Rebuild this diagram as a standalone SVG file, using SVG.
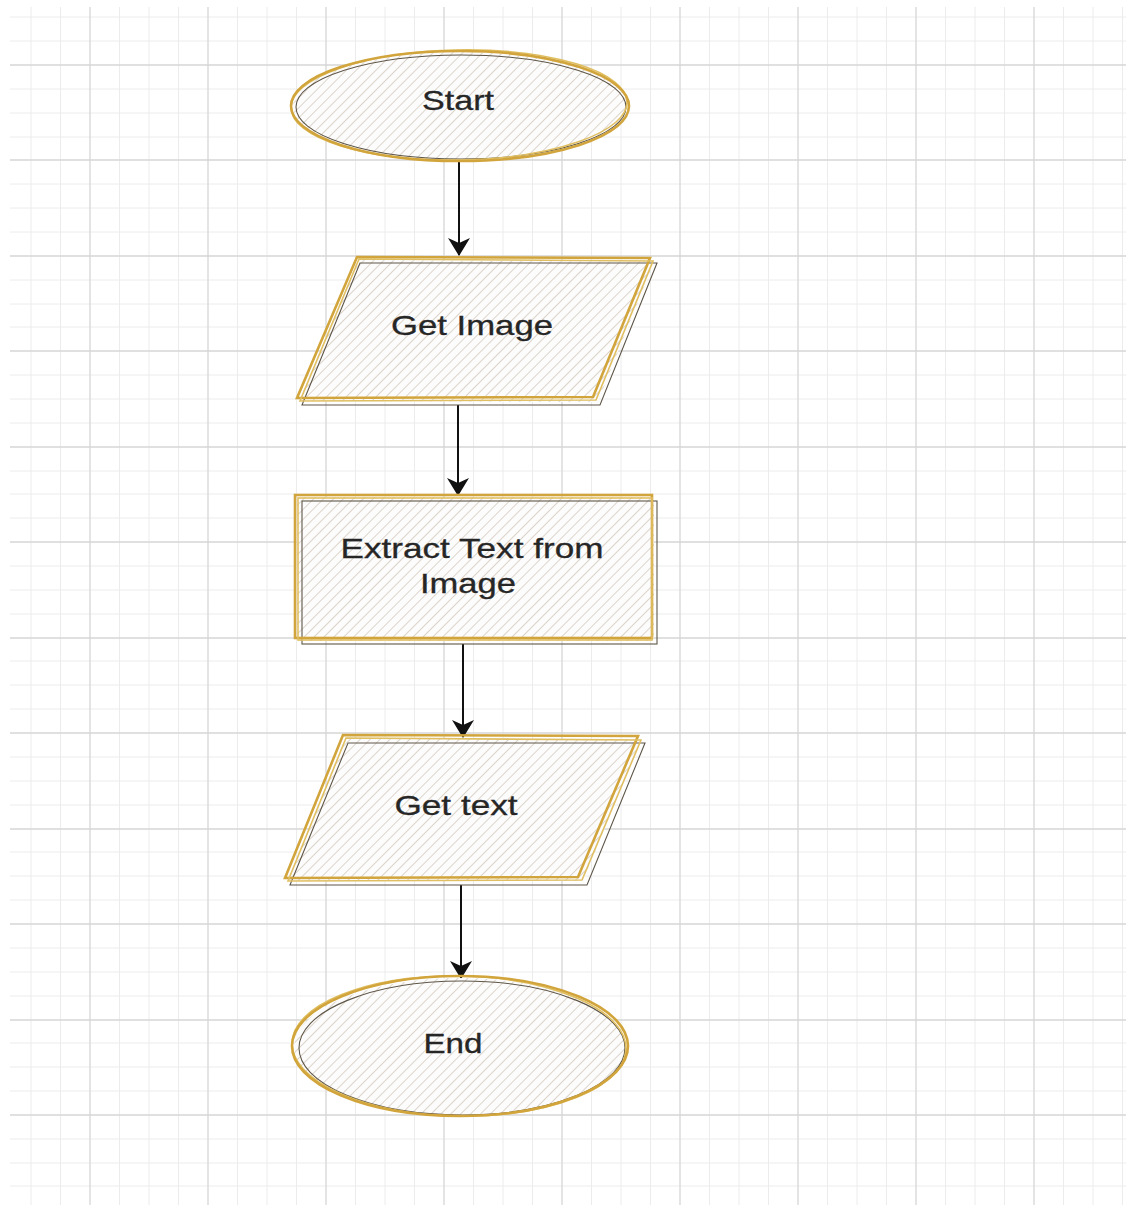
<svg xmlns="http://www.w3.org/2000/svg" width="1126" height="1205" viewBox="0 0 1126 1205">
<style>
.minor{stroke:#ececec;stroke-width:1;fill:none}
.major{stroke:#d6d6d6;stroke-width:1.3;fill:none}
.hfill{fill:url(#hatch);stroke:none}
.gold{fill:none;stroke:#d2a53c;stroke-width:2.6}
.gold2{fill:none;stroke:#e0bf62;stroke-width:1.6}
.dark{fill:none;stroke:#5e5648;stroke-width:1.1}
.lbl{font-family:"Liberation Sans",Arial,sans-serif;font-size:28px;fill:#262626;text-anchor:middle;stroke:#262626;stroke-width:0.3}
.conn{stroke:#111;stroke-width:2;fill:none;marker-end:url(#arrow)}
</style>
<defs>
<pattern id="hatch" width="7" height="7" patternUnits="userSpaceOnUse" patternTransform="rotate(45)">
<rect width="7" height="7" fill="#fdfcfc"/>
<line x1="0" y1="0" x2="0" y2="7" stroke="#d3cabd" stroke-width="1.6"/>
</pattern>
<marker id="arrow" markerUnits="userSpaceOnUse" markerWidth="18" markerHeight="22" viewBox="0 0 18 22" refX="17" refY="11" orient="auto">
<path d="M0,0 L18,11 L0,22 L5,11 Z" fill="#111"/>
</marker>
</defs>
<rect width="1126" height="1205" fill="#ffffff"/>
<g id="grid">
<path class="minor" d="M31,7V1205M60.5,7V1205M119.5,7V1205M149,7V1205M178.5,7V1205M237.5,7V1205M267,7V1205M296.5,7V1205M355.5,7V1205M385,7V1205M414.5,7V1205M473.5,7V1205M503,7V1205M532.5,7V1205M591.5,7V1205M621,7V1205M650.5,7V1205M709.5,7V1205M739,7V1205M768.5,7V1205M827.5,7V1205M857,7V1205M886.5,7V1205M945.5,7V1205M975,7V1205M1004.5,7V1205M1063.5,7V1205M1093,7V1205M1122.5,7V1205
M10,17H1126M10,41H1126M10,89H1126M10,113H1126M10,137H1126M10,184H1126M10,208H1126M10,232H1126M10,280H1126M10,304H1126M10,327H1126M10,375H1126M10,399H1126M10,423H1126M10,471H1126M10,494H1126M10,518H1126M10,566H1126M10,590H1126M10,614H1126M10,661H1126M10,685H1126M10,709H1126M10,757H1126M10,781H1126M10,805H1126M10,852H1126M10,876H1126M10,900H1126M10,948H1126M10,972H1126M10,996H1126M10,1043H1126M10,1067H1126M10,1091H1126M10,1139H1126M10,1163H1126M10,1186H1126"/>
<path class="major" d="M90,7V1205M208,7V1205M326,7V1205M444,7V1205M562,7V1205M680,7V1205M798,7V1205M916,7V1205M1034,7V1205
M10,65H1126M10,160H1126M10,256H1126M10,351H1126M10,447H1126M10,542H1126M10,638H1126M10,733H1126M10,829H1126M10,924H1126M10,1020H1126M10,1115H1126"/>
</g>
<g id="connectors">
<line class="conn" x1="459" y1="162" x2="459" y2="255"/>
<line class="conn" x1="458" y1="405" x2="458" y2="495"/>
<line class="conn" x1="463" y1="644" x2="463" y2="737"/>
<line class="conn" x1="461" y1="885" x2="461" y2="978"/>
</g>
<g id="start">
<ellipse class="hfill" cx="460" cy="106" rx="167" ry="54"/>
<ellipse class="dark" cx="461" cy="107" rx="165" ry="52"/>
<ellipse class="gold2" cx="459" cy="105" rx="168" ry="55" transform="rotate(-1 459 105)"/>
<ellipse class="gold" cx="460" cy="106" rx="169" ry="55"/>
<text class="lbl" x="458" y="110" textLength="72" lengthAdjust="spacingAndGlyphs">Start</text>
</g>
<g id="get-image">
<polygon class="hfill" points="358,260 654,262 598,402 299,401"/>
<polygon class="dark" points="360,263 657,263 600,405 302,405"/>
<polygon class="gold" points="357,257 650,258 593,397 297,398"/>
<polygon class="gold2" points="359,259 653,261 596,400 300,401"/>
<text class="lbl" x="472" y="335" textLength="162" lengthAdjust="spacingAndGlyphs">Get Image</text>
</g>
<g id="extract-text">
<rect class="hfill" x="297" y="497" width="357" height="144"/>
<rect class="dark" x="302" y="501" width="355" height="143"/>
<rect class="gold" x="295" y="495" width="357" height="143"/>
<rect class="gold2" x="298" y="498" width="354" height="142"/>
<text class="lbl" x="472" y="558" textLength="263" lengthAdjust="spacingAndGlyphs">Extract Text from</text>
<text class="lbl" x="468" y="593" textLength="96" lengthAdjust="spacingAndGlyphs">Image</text>
</g>
<g id="get-text">
<polygon class="hfill" points="345,738 641,740 583,881 288,881"/>
<polygon class="dark" points="348,743 645,743 587,885 290,885"/>
<polygon class="gold" points="343,735 638,736 578,877 285,878"/>
<polygon class="gold2" points="346,738 641,740 582,880 288,881"/>
<text class="lbl" x="456" y="815" textLength="123" lengthAdjust="spacingAndGlyphs">Get text</text>
</g>
<g id="end">
<ellipse class="hfill" cx="460" cy="1047" rx="166" ry="69"/>
<ellipse class="dark" cx="462" cy="1048" rx="163" ry="67"/>
<ellipse class="gold2" cx="459" cy="1046" rx="167" ry="70" transform="rotate(1 459 1046)"/>
<ellipse class="gold" cx="460" cy="1046" rx="168" ry="70"/>
<text class="lbl" x="453" y="1053" textLength="59" lengthAdjust="spacingAndGlyphs">End</text>
</g>
</svg>
